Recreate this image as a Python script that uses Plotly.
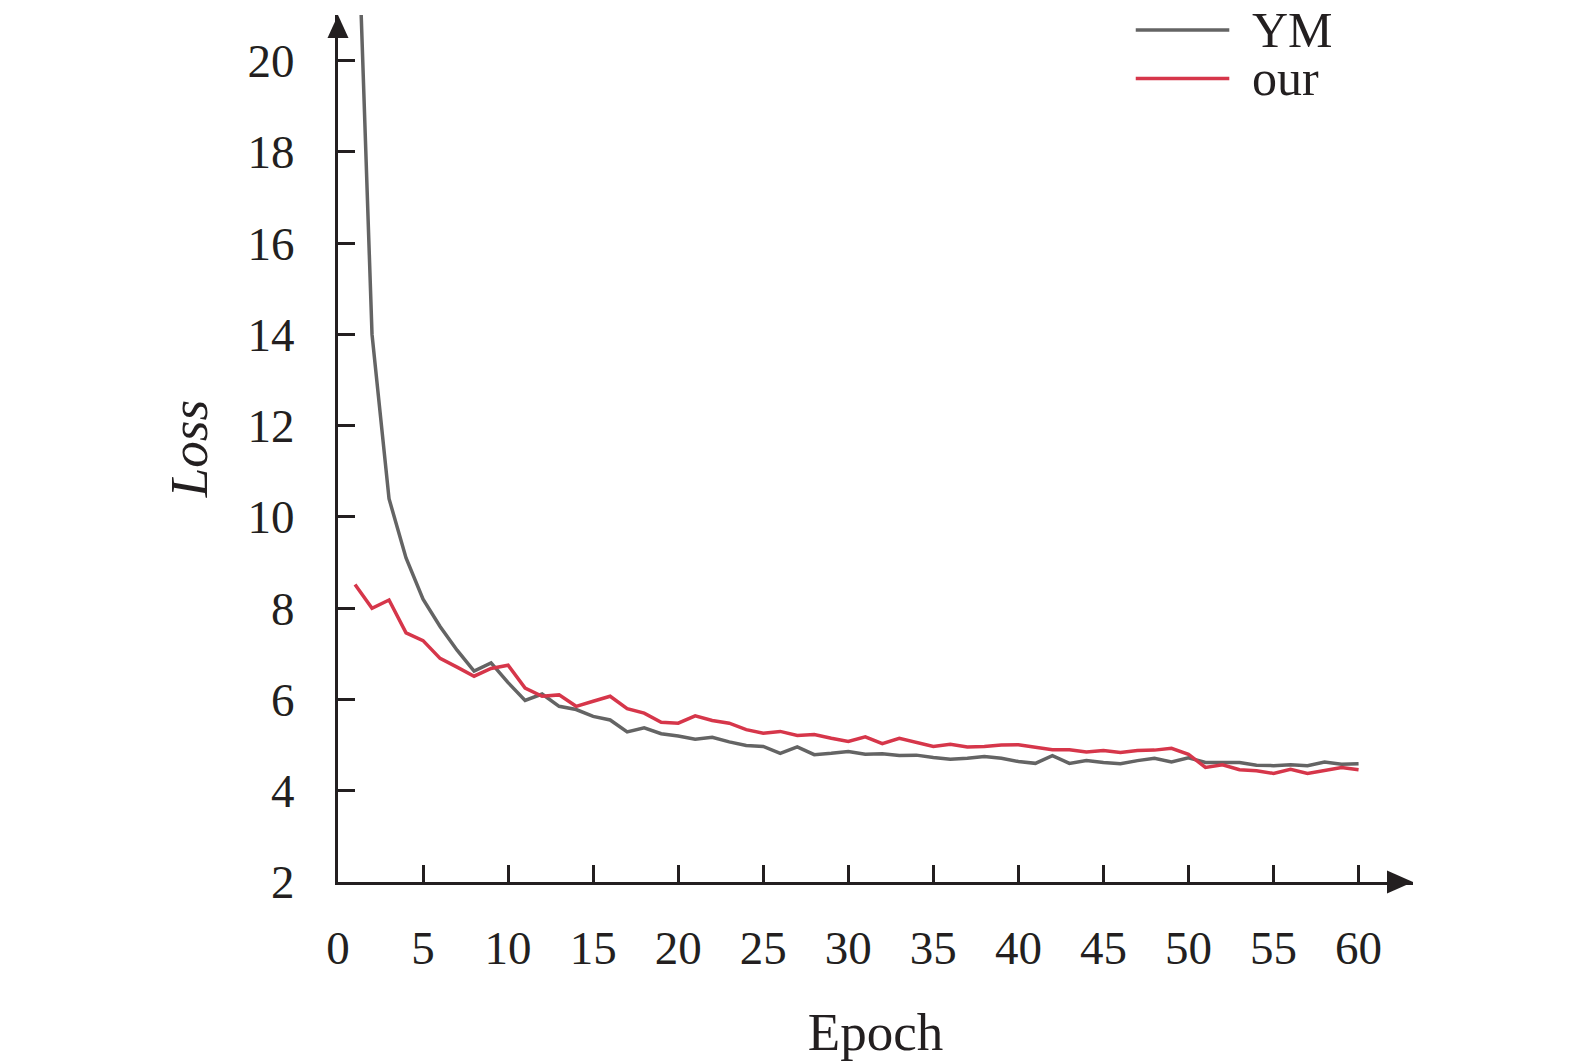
import plotly.graph_objects as go

epochs = list(range(1, 61))

ym_loss = [25.0, 14.0, 10.4, 9.1, 8.2, 7.6, 7.08, 6.62, 6.8, 6.37,
           5.98, 6.12, 5.85, 5.78, 5.63, 5.55, 5.29, 5.38, 5.25, 5.2,
           5.13, 5.17, 5.07, 4.99, 4.97, 4.82, 4.96, 4.79, 4.82, 4.86,
           4.8, 4.81, 4.77, 4.78, 4.73, 4.69, 4.71, 4.75, 4.71, 4.64,
           4.6, 4.77, 4.6, 4.66, 4.62, 4.59, 4.66, 4.71, 4.63, 4.72,
           4.62, 4.62, 4.62, 4.56, 4.55, 4.57, 4.55, 4.63, 4.58, 4.59]

our_loss = [8.52, 8.0, 8.18, 7.46, 7.29, 6.9, 6.71, 6.51, 6.68, 6.75,
            6.25, 6.07, 6.1, 5.85, 5.96, 6.07, 5.8, 5.7, 5.5, 5.48,
            5.64, 5.54, 5.48, 5.34, 5.26, 5.3, 5.21, 5.23, 5.15, 5.08,
            5.18, 5.03, 5.15, 5.06, 4.97, 5.02, 4.96, 4.97, 5.0, 5.01,
            4.95, 4.9, 4.9, 4.85, 4.88, 4.84, 4.88, 4.89, 4.93, 4.8,
            4.51, 4.57, 4.46, 4.44, 4.38, 4.47, 4.38, 4.45, 4.51, 4.46]

series_names = ["YM", "our"]
series_colors = ["#646464", "#d6364a"]

x_ticks = list(range(0, 61, 5))
y_ticks = list(range(2, 21, 2))

font_name = "Liberation Serif"
axis_color = "#231f20"

fig = go.Figure()
for name, vals, col in zip(series_names, [ym_loss, our_loss], series_colors):
    fig.add_trace(go.Scatter(x=epochs, y=vals, mode="lines", name=name,
                             line=dict(color=col, width=3.5)))

fig.update_layout(
    width=1575, height=1064,
    margin=dict(l=338, r=162, t=15, b=182),
    plot_bgcolor="white", paper_bgcolor="white",
    showlegend=False,
    font=dict(family=font_name, size=47, color=axis_color),
)

fig.update_xaxes(
    range=[0, 63.2], tickvals=x_ticks, showgrid=False, zeroline=False,
    showline=True, linewidth=3, linecolor=axis_color,
    ticks="inside", ticklen=17, tickwidth=3, tickcolor=axis_color,
    ticklabelstandoff=23, automargin=False,
    title=dict(text="Epoch", standoff=40, font=dict(size=53)),
)
fig.update_yaxes(
    range=[2, 21.0], tickvals=y_ticks, showgrid=False, zeroline=False,
    showline=True, linewidth=3, linecolor=axis_color,
    ticks="inside", ticklen=17, tickwidth=3, tickcolor=axis_color,
    ticklabelstandoff=31, automargin=False,
    title=dict(text="<i>Loss</i>", standoff=24, font=dict(size=53)),
)

# arrow heads at the ends of both axes
fig.add_shape(type="path", xref="paper", yref="paper",
              xsizemode="pixel", ysizemode="pixel", xanchor=1, yanchor=0,
              path="M0,0 L-26,11.5 L-26,-11.5 Z",
              fillcolor=axis_color, line=dict(width=0))
fig.add_shape(type="path", xref="paper", yref="paper",
              xsizemode="pixel", ysizemode="pixel", xanchor=0, yanchor=1,
              path="M0,0 L-10.5,-23 L10.5,-23 Z",
              fillcolor=axis_color, line=dict(width=0))

# legend drawn by hand to get the long line samples
legend_y = [20.67, 19.61]
for name, col, ly in zip(series_names, series_colors, legend_y):
    fig.add_shape(type="line", x0=46.9, x1=52.4, y0=ly, y1=ly,
                  line=dict(color=col, width=3.5))
    fig.add_annotation(x=53.6, y=ly, text=name, showarrow=False,
                       xanchor="left", yanchor="middle",
                       font=dict(family=font_name, size=50, color=axis_color))

fig.write_html("out.html", config={"displayModeBar": False},
               post_script="document.body.style.margin = '0';")
